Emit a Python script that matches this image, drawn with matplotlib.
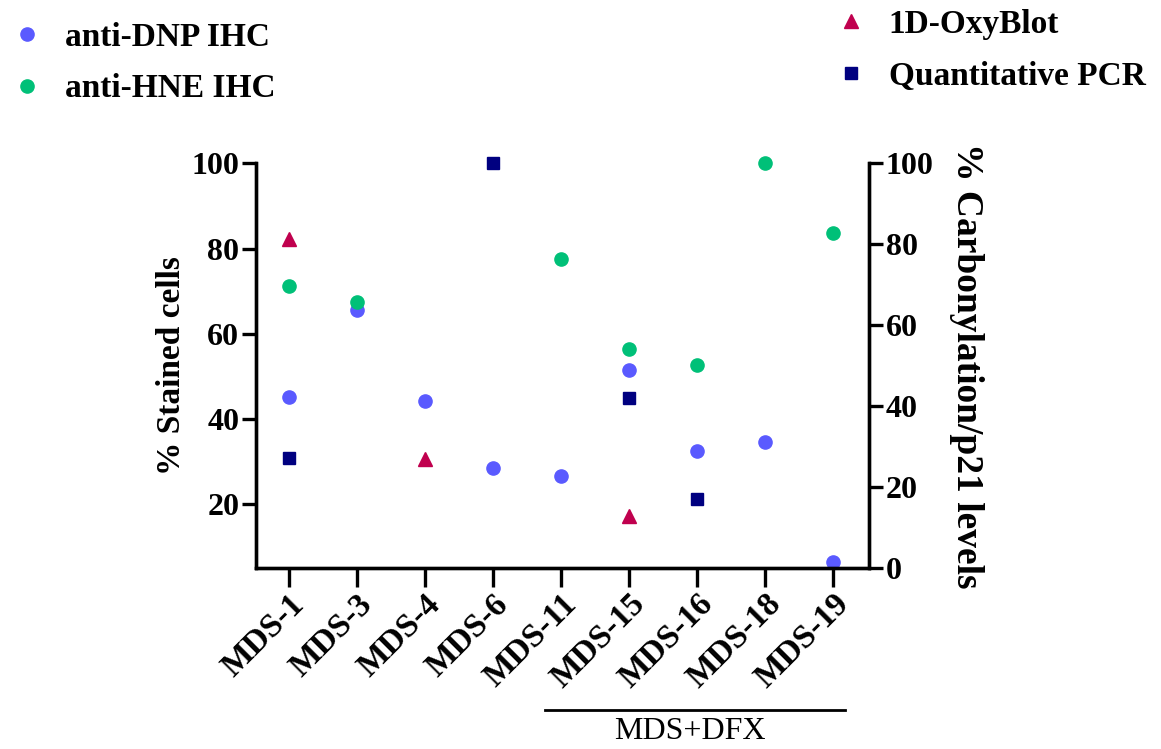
import matplotlib
matplotlib.use("Agg")
import matplotlib.pyplot as plt
from matplotlib.transforms import blended_transform_factory

samples = ["MDS-1", "MDS-3", "MDS-4", "MDS-6", "MDS-11", "MDS-15", "MDS-16", "MDS-18", "MDS-19"]

# left axis: % stained cells
dnp_x = ["MDS-1", "MDS-3", "MDS-4", "MDS-6", "MDS-11", "MDS-15", "MDS-16", "MDS-18", "MDS-19"]
dnp_ihc = [45.2, 65.6, 44.2, 28.4, 26.6, 51.5, 32.4, 34.5, 6.5]
hne_x = ["MDS-1", "MDS-3", "MDS-11", "MDS-15", "MDS-16", "MDS-18", "MDS-19"]
hne_ihc = [71.2, 67.5, 77.5, 56.4, 52.7, 100, 83.6]

# right axis: % carbonylation / p21 levels
oxy_x = ["MDS-1", "MDS-4", "MDS-15"]
oxyblot = [81.3, 26.9, 12.8]
pcr_x = ["MDS-1", "MDS-6", "MDS-15", "MDS-16"]
qpcr = [27.2, 100, 42.0, 17.1]

dfx_group = ["MDS-11", "MDS-19"]

plt.rcParams["font.family"] = ["Liberation Serif", "DejaVu Serif"]
plt.rcParams["font.weight"] = "bold"
plt.rcParams["axes.linewidth"] = 2.4

BLUE, GREEN, RED, NAVY = "#5a5aff", "#00c078", "#c0004e", "#000080"


def pos(names):
    return [samples.index(n) for n in names]


fig = plt.figure(figsize=(11.61, 7.49), dpi=100)
ax = fig.add_axes([0.2205, 0.2421, 0.528, 0.5399])
ax2 = ax.twinx()

h_dnp, = ax.plot(pos(dnp_x), dnp_ihc, "o", ms=9.5, color=BLUE, label="anti-DNP IHC", clip_on=False)
h_hne, = ax.plot(pos(hne_x), hne_ihc, "o", ms=9.5, color=GREEN, label="anti-HNE IHC", clip_on=False)
h_oxy, = ax2.plot(pos(oxy_x), oxyblot, "^", ms=10, color=RED, label="1D-OxyBlot", clip_on=False)
h_pcr, = ax2.plot(pos(pcr_x), qpcr, "s", ms=9, color=NAVY, label="Quantitative PCR", clip_on=False)

ax.set_xlim(-0.48, len(samples) - 0.47)
ax.set_ylim(5.1, 100)
ax2.set_ylim(0, 100)
ax.set_yticks([20, 40, 60, 80, 100])
ax2.set_yticks([0, 20, 40, 60, 80, 100])
ax.set_xticks(range(len(samples)))
ax.set_xticklabels(samples, rotation=45, ha="right", rotation_mode="anchor")

for a in (ax, ax2):
    a.spines["top"].set_visible(False)
    a.tick_params(axis="y", length=10, width=2.4, labelsize=23, pad=2)
ax.tick_params(axis="x", length=14, width=2.4, labelsize=24, pad=1)

ax.set_ylabel("% Stained cells", fontsize=24, fontweight="bold", labelpad=3)
ax2.set_ylabel("% Carbonylation/p21 levels", fontsize=27, fontweight="bold",
               rotation=270, labelpad=36)

# bracket under the deferasirox-treated samples
tr = blended_transform_factory(ax.transData, fig.transFigure)
x0, x1 = pos(dfx_group)
ax.plot([x0 - 0.23, x1 + 0.18], [0.052, 0.052], color="black", lw=2, transform=tr, clip_on=False)
ax.text((x0 + x1) / 2 - 0.1, 0.024, "MDS+DFX", transform=tr, ha="center", va="center",
        fontsize=23, fontweight="normal")

leg_kw = dict(frameon=False, fontsize=24, handletextpad=0.64, labelspacing=0.62,
              handlelength=1, borderpad=0, borderaxespad=0, loc="upper left")
fig.legend(handles=[h_dnp, h_hne], bbox_to_anchor=(0.009, 0.971), **leg_kw)
fig.legend(handles=[h_oxy, h_pcr], bbox_to_anchor=(0.7185, 0.988), **leg_kw)

fig.savefig("out.png", dpi=100)
